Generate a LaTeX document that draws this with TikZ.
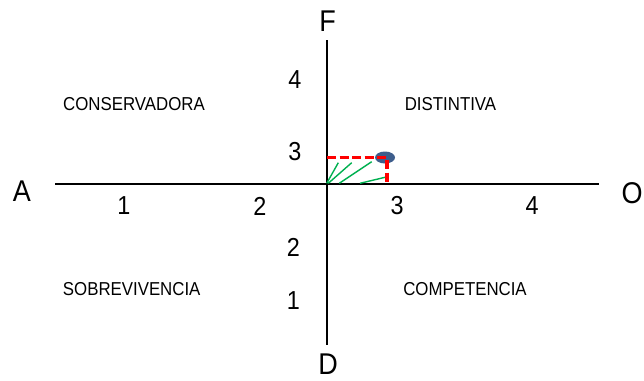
\documentclass[tikz,border=0pt]{standalone}
\usepackage{fontspec}
\usetikzlibrary{shapes.geometric}
\setmainfont[FakeStretch=0.9]{Liberation Sans}
\definecolor{dotblue}{RGB}{62,94,140}
\definecolor{hatchgreen}{RGB}{0,176,80}
\begin{document}
\begin{tikzpicture}[x=1pt,y=-1pt,
  axis/.style={line width=2.6pt,black},
  pole/.style={inner sep=0pt,font=\fontsize{30}{32}\selectfont},
  tick/.style={inner sep=0pt,font=\fontsize{26}{28}\selectfont},
  zone/.style={inner sep=0pt,font=\fontsize{18.7}{20}\selectfont},
  reddash/.style={red,line width=3.5pt,dash pattern=on 9pt off 3.5pt},
  hatch/.style={hatchgreen,line width=1.4pt}]
\useasboundingbox (0,0) rectangle (644,380);
% axes
\coordinate (aL) at (55,184);
\coordinate (aR) at (599,184);
\coordinate (aT) at (327,40);
\coordinate (aB) at (327,345);
\draw[axis] (aL) -- (aR);
\draw[axis] (aT) -- (aB);
% pole letters
\node[pole] (F) at (327.5,21) {F};
\node[pole] (D) at (328,364.5) {D};
\node[pole] (A) at (22,191) {A};
\node[pole] (O) at (632,193) {O};
% vertical scale
\node[tick] (v4) at (295,79.5) {4};
\node[tick] (v3) at (295,152) {3};
\node[tick] (v2) at (293.5,247.5) {2};
\node[tick] (v1) at (293.5,301) {1};
% horizontal scale
\node[tick] (h1) at (124,206) {1};
\node[tick] (h2) at (260,206) {2};
\node[tick] (h3) at (397,206) {3};
\node[tick] (h4) at (532,206) {4};
% quadrant labels
\node[zone] (cons) at (134,104) {CONSERVADORA};
\node[zone] (dist) at (450.5,104) {DISTINTIVA};
\node[zone] (sobr) at (131.7,289) {SOBREVIVENCIA};
\node[zone] (comp) at (465,289) {COMPETENCIA};
% green hatch
\draw[hatch] (326.7,183.3) -- (338.3,162.7);
\draw[hatch] (328.3,183.3) -- (351.7,162.7);
\draw[hatch] (339.3,183.3) -- (371.7,161.7);
\draw[hatch] (360,183.3) -- (385,177.3);
% blue point
\node[ellipse,fill=dotblue,minimum width=20pt,minimum height=12pt,inner sep=0pt] (pt) at (385,157.5) {};
% red dashed projection
\coordinate (r0) at (327,157.5);
\coordinate (r1) at (387,157.5);
\coordinate (r2) at (387,183);
\draw[reddash] (r0) -- (r1) -- (r2);
\end{tikzpicture}
\end{document}
